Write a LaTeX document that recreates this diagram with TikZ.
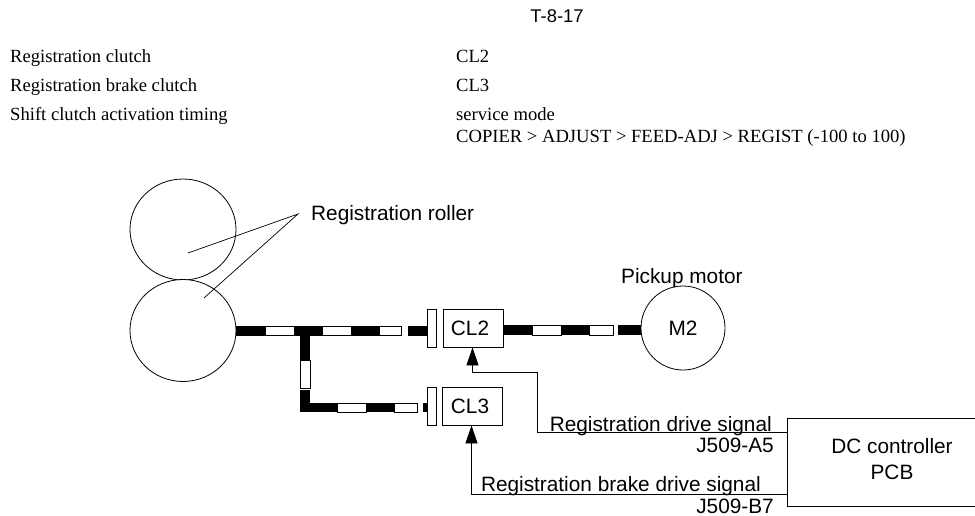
\documentclass[tikz,border=0pt]{standalone}
\usepackage{fontspec}
\setmainfont{Liberation Serif}
\newfontfamily\labelfont{Liberation Sans}
\usetikzlibrary{arrows.meta,shapes.geometric}
\tikzset{
  lbl/.style={inner sep=0pt,font=\labelfont\fontsize{20.8}{25.7}\selectfont},
  txt/.style={inner sep=0pt,anchor=base west,font=\fontsize{18.6}{22}\selectfont},
  part/.style={draw,fill=white,inner sep=0pt,line width=0.8pt},
  sig/.style={line width=0.8pt,-{Triangle[length=18pt,width=12pt]}},
  blk/.style={fill=black},
  wht/.style={draw,fill=white,line width=0.7pt}
}
\begin{document}
\begin{tikzpicture}[x=1pt,y=-1pt]
  \useasboundingbox (0,0) rectangle (975,516);
  % table
  \node[inner sep=0pt,anchor=base,font=\labelfont\fontsize{18.4}{22}\selectfont] (tab) at (557,23) {T-8-17};
  \node[txt] (t1) at (10,63) {Registration clutch};
  \node[txt] (t2) at (10,92) {Registration brake clutch};
  \node[txt] (t3) at (10,121) {Shift clutch activation timing};
  \node[txt] (v1) at (456,63) {CL2};
  \node[txt] (v2) at (456,92) {CL3};
  \node[txt] (v3) at (456,121) {service mode};
  \node[txt] (v4) at (456,142.5) {COPIER > ADJUST > FEED-ADJ > REGIST (-100 to 100)};
  % rollers
  \node[part,ellipse,minimum width=106pt,minimum height=101pt] (top) at (183,229.5) {};
  \node[part,ellipse,minimum width=106pt,minimum height=102pt] (low) at (183,330.5) {};
  \node[lbl,anchor=base west] (reg) at (311,220) {Registration roller};
  \coordinate (tip) at (298,214);
  \coordinate (p1) at (188,253);
  \coordinate (p2) at (204,298);
  \draw[line width=0.7pt] (p1)--(tip)--(p2);
  % shafts
  \foreach \xa/\xb/\st in {236/265/blk,265/294/wht,294/322/blk,322/351/wht,351/379/blk,379/401/wht,408/427/blk}
    \path[\st] (\xa,326) rectangle (\xb,335.5);
  \foreach \ya/\yb/\st in {335/360/blk,360/388/wht,390/412/blk}
    \path[\st] (300,\ya) rectangle (310,\yb);
  \foreach \xa/\xb/\st in {300/337/blk,337/366/wht,366/394/blk,394/417.5/wht,423/427/blk}
    \path[\st] (\xa,403) rectangle (\xb,412);
  \foreach \xa/\xb/\st in {504/532/blk,532/561/wht,561/589/blk,589/613/wht,618/641/blk}
    \path[\st] (\xa,325) rectangle (\xb,335);
  % discs
  \node[part,minimum width=9pt,minimum height=38pt] (d2) at (432,328) {};
  \node[part,minimum width=9pt,minimum height=38pt] (d3) at (431.5,406) {};
  % clutches
  \node[part,lbl,minimum width=60pt,minimum height=38pt] (cl2) at (473,328) {CL2\kern6pt};
  \node[part,lbl,minimum width=60pt,minimum height=38pt] (cl3) at (472.5,406) {CL3\kern5pt};
  \node[part,lbl,circle,minimum size=84pt] (m2) at (683,328) {M2};
  \node[lbl,anchor=base west] (pm) at (621,283) {Pickup motor};
  % controller, runs off the page on the right
  \node[lbl,align=center] (pcb) at (892,459) {DC controller\\PCB};
  \coordinate (c1) at (975,418);
  \coordinate (c2) at (787,418);
  \coordinate (c3) at (787,506);
  \coordinate (c4) at (975,506);
  \draw[line width=0.9pt] (c1)--(c2)--(c3)--(c4);
  % signals
  \coordinate (a1) at (537.5,372);
  \coordinate (a2) at (537.5,432.5);
  \coordinate (a3) at (787,432.5);
  \draw[sig] (a3)--(a2)--(a1)--(472.5,372)--(cl2.south-|472.5,372);
  \coordinate (b1) at (787,494);
  \coordinate (b2) at (471.5,494);
  \draw[sig] (b1)--(b2)--(cl3.south-|b2);
  \node[lbl,anchor=base east] (s1) at (772,431) {Registration drive signal};
  \node[lbl,anchor=base east] (j1) at (774,452) {J509-A5};
  \node[lbl,anchor=base east] (s2) at (761,491) {Registration brake drive signal};
  \node[lbl,anchor=base east] (j2) at (774,513) {J509-B7};
\end{tikzpicture}
\end{document}
